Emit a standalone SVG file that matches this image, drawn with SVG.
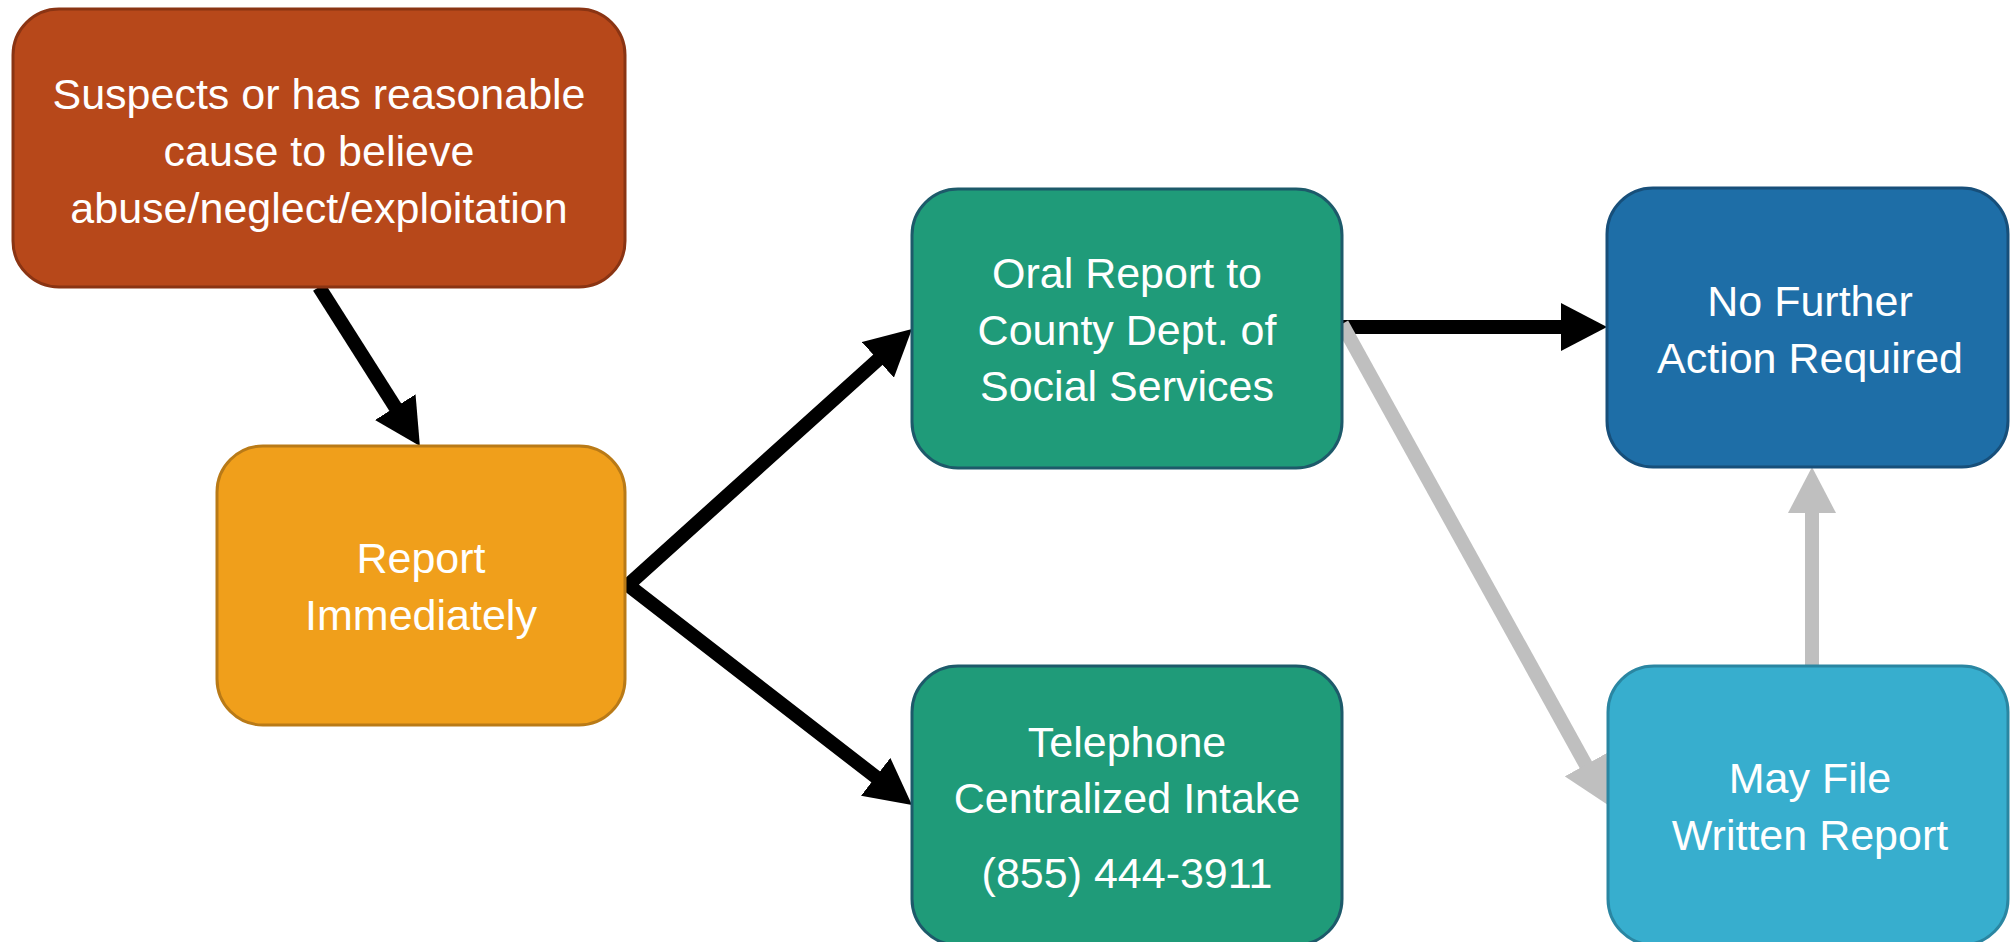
<svg xmlns="http://www.w3.org/2000/svg" width="2011" height="942" viewBox="0 0 2011 942">
<style>
.box{stroke-width:3}
.lbl{font-family:"Liberation Sans",Arial,sans-serif;font-size:43px;fill:#FFFFFF;text-anchor:middle}
.blk{fill:none;stroke:#000000;stroke-width:14;stroke-linejoin:miter}
.gry{fill:none;stroke:#BFBFBF;stroke-width:14}
</style>
<defs>
<marker id="ahB" viewBox="0 0 46 48" refX="4" refY="24" markerWidth="46" markerHeight="48" markerUnits="userSpaceOnUse" orient="auto-start-reverse">
<path d="M0,0 L46,24 L0,48 z" fill="#000000"/>
</marker>
<marker id="ahG" viewBox="0 0 46 48" refX="4" refY="24" markerWidth="46" markerHeight="48" markerUnits="userSpaceOnUse" orient="auto">
<path d="M0,0 L46,24 L0,48 z" fill="#BFBFBF"/>
</marker>
</defs>
<g id="connectors">
<line class="blk" x1="319" y1="287" x2="397.4" y2="410.6" marker-end="url(#ahB)"/>
<path class="blk" d="M880.8,357.1 L628,585 L878.8,779.3" marker-start="url(#ahB)" marker-end="url(#ahB)"/>
<line class="blk" x1="1342" y1="327" x2="1565" y2="327" marker-end="url(#ahB)"/>
<line class="gry" x1="1342" y1="324" x2="1587.7" y2="768.2" marker-end="url(#ahG)"/>
<line class="gry" x1="1812" y1="668" x2="1812" y2="509" marker-end="url(#ahG)"/>
</g>
<g id="node-suspects">
<rect class="box" x="13" y="9" width="612" height="278" rx="46" ry="46" fill="#B7481A" stroke="#8A3413"/>
<text class="lbl" x="319" y="109">Suspects or has reasonable</text>
<text class="lbl" x="319" y="166">cause to believe</text>
<text class="lbl" x="319" y="223">abuse/neglect/exploitation</text>
</g>
<g id="node-report">
<rect class="box" x="217" y="446" width="408" height="279" rx="46" ry="46" fill="#F09F1B" stroke="#B97A17"/>
<text class="lbl" x="421" y="573">Report</text>
<text class="lbl" x="421" y="630">Immediately</text>
</g>
<g id="node-oral">
<rect class="box" x="912" y="189" width="430" height="279" rx="46" ry="46" fill="#1F9B79" stroke="#1D5A6A"/>
<text class="lbl" x="1127" y="288">Oral Report to</text>
<text class="lbl" x="1127" y="345">County Dept. of</text>
<text class="lbl" x="1127" y="401">Social Services</text>
</g>
<g id="node-telephone">
<rect class="box" x="912" y="666" width="430" height="279" rx="46" ry="46" fill="#1F9B79" stroke="#1D5A6A"/>
<text class="lbl" x="1127" y="757">Telephone</text>
<text class="lbl" x="1127" y="813">Centralized Intake</text>
<text class="lbl" x="1127" y="888">(855) 444-3911</text>
</g>
<g id="node-nofurther">
<rect class="box" x="1607" y="188" width="401" height="279" rx="46" ry="46" fill="#1E6EA7" stroke="#174F7A"/>
<text class="lbl" x="1810" y="316">No Further</text>
<text class="lbl" x="1810" y="373">Action Required</text>
</g>
<g id="node-mayfile">
<rect class="box" x="1608" y="666" width="400" height="279" rx="46" ry="46" fill="#37AECE" stroke="#2A86A2"/>
<text class="lbl" x="1810" y="793">May File</text>
<text class="lbl" x="1810" y="850">Written Report</text>
</g>
</svg>
